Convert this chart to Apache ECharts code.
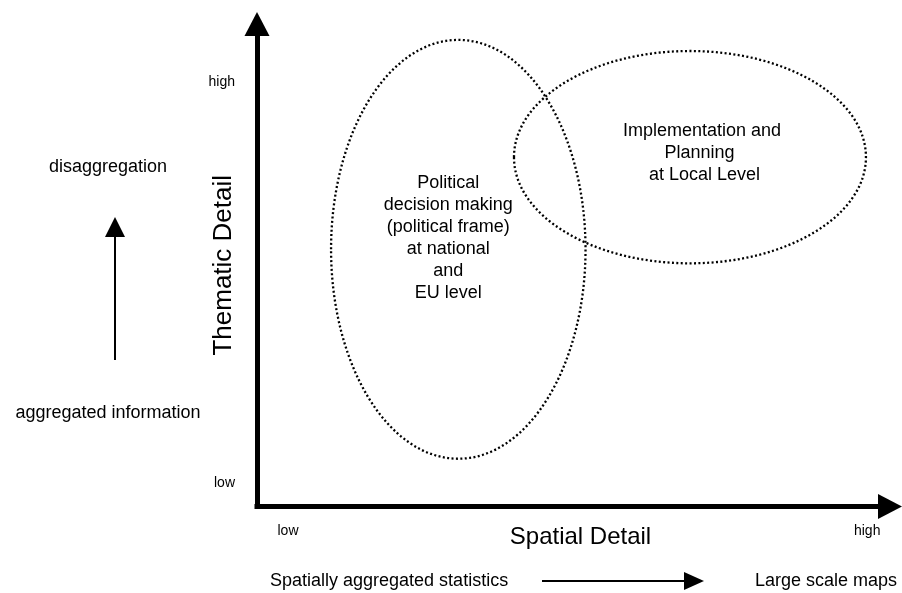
<!DOCTYPE html>
<html><head><meta charset="utf-8">
<script src="https://cdn.jsdelivr.net/npm/echarts@6/dist/echarts.min.js"></script>
<style>html,body{margin:0;padding:0;background:#fff}#c{width:902px;height:593px}</style>
</head><body><div id="c"></div>
<script>
// ---- data (conceptual units 0..100 on both axes) ----
const ellipseNames = [
  'Political\ndecision making\n(political frame)\nat national\nand\nEU level',
  'Implementation and\nPlanning \n at Local Level'
];
const ellipseCenterX = [31.8, 68.4];
const ellipseCenterY = [53.3, 72.4];
const ellipseRadiusX = [20.1, 27.8];
const ellipseRadiusY = [43.4, 22.0];
const xTickValues = [4.9, 96.4];
const xTickLabels = ['low', 'high'];
const yTickValues = [4.9, 88.0];
const yTickLabels = ['low', 'high'];
const xAxisTitle = 'Spatial Detail';
const yAxisTitle = 'Thematic Detail';
const leftTopText = 'disaggregation';
const leftBottomText = 'aggregated information';
const bottomLeftText = 'Spatially aggregated statistics';
const bottomRightText = 'Large scale maps';

const FONT = '"Liberation Sans", Arial, Helvetica, sans-serif';
const labelOffsets = [[-10, -11], [12, -4]];

const ellipseData = ellipseNames.map((n, i) => [ellipseCenterX[i], ellipseCenterY[i], ellipseRadiusX[i], ellipseRadiusY[i], n]);

const chart = echarts.init(document.getElementById('c'), null, {renderer: 'canvas'});
const axisLineStyle = {color: '#000', width: 5, cap: 'square'};
chart.setOption({
  backgroundColor: '#fff',
  animation: false,
  grid: {left: 257, right: 12, top: 24, bottom: 86.5, containLabel: false, outerBoundsMode: 'none'},
  xAxis: {
    type: 'value', min: 0, max: 100,
    axisLine: {show: true, onZero: false, symbol: ['none', 'triangle'], symbolSize: [25, 24], lineStyle: axisLineStyle},
    axisTick: {show: false}, splitLine: {show: false},
    axisLabel: {customValues: xTickValues, formatter: v => xTickLabels[xTickValues.indexOf(v)] || '',
      color: '#000', fontSize: 14, fontFamily: FONT, margin: 18},
    name: xAxisTitle, nameLocation: 'middle', nameGap: 19, nameMoveOverlap: false,
    nameTextStyle: {color: '#000', fontSize: 24, fontFamily: FONT, padding: [0, 0, 0, 14]}
  },
  yAxis: {
    type: 'value', min: 0, max: 100,
    axisLine: {show: true, onZero: false, symbol: ['none', 'triangle'], symbolSize: [25, 24], lineStyle: axisLineStyle},
    axisTick: {show: false}, splitLine: {show: false},
    axisLabel: {customValues: yTickValues, formatter: v => yTickLabels[yTickValues.indexOf(v)] || '',
      color: '#000', fontSize: 14, fontFamily: FONT, margin: 22},
    name: yAxisTitle, nameLocation: 'middle', nameGap: 20, nameRotate: 90, nameMoveOverlap: false,
    nameTextStyle: {color: '#000', fontSize: 26, fontFamily: FONT}
  },
  series: [{
    type: 'custom',
    coordinateSystem: 'cartesian2d',
    clip: false,
    data: ellipseData,
    renderItem: function (params, api) {
      const c = api.coord([api.value(0), api.value(1)]);
      const s = api.size([api.value(2), api.value(3)]);
      const off = labelOffsets[params.dataIndex];
      return {
        type: 'group',
        children: [{
          type: 'ellipse',
          shape: {cx: c[0], cy: c[1], rx: s[0], ry: s[1]},
          style: {fill: null, stroke: '#000', lineWidth: 2.3, lineDash: [2, 2.4]}
        }, {
          type: 'text',
          x: c[0] + off[0], y: c[1] + off[1],
          style: {text: ellipseNames[params.dataIndex], align: 'center', verticalAlign: 'middle',
            fontSize: 18, lineHeight: 22, fontFamily: FONT, fill: '#000'}
        }]
      };
    }
  }],
  graphic: [
    {type: 'text', x: 108, y: 167, style: {text: leftTopText, align: 'center', verticalAlign: 'middle', fontSize: 18, fontFamily: FONT, fill: '#000'}},
    {type: 'line', shape: {x1: 115, y1: 360, x2: 115, y2: 234}, style: {stroke: '#000', lineWidth: 2}},
    {type: 'polygon', shape: {points: [[105, 237], [125, 237], [115, 217]]}, style: {fill: '#000'}},
    {type: 'text', x: 108, y: 413, style: {text: leftBottomText, align: 'center', verticalAlign: 'middle', fontSize: 18, fontFamily: FONT, fill: '#000'}},
    {type: 'text', x: 270, y: 581, style: {text: bottomLeftText, align: 'left', verticalAlign: 'middle', fontSize: 18, fontFamily: FONT, fill: '#000'}},
    {type: 'line', shape: {x1: 542, y1: 581, x2: 688, y2: 581}, style: {stroke: '#000', lineWidth: 2}},
    {type: 'polygon', shape: {points: [[684, 572], [684, 590], [704, 581]]}, style: {fill: '#000'}},
    {type: 'text', x: 755, y: 581, style: {text: bottomRightText, align: 'left', verticalAlign: 'middle', fontSize: 18, fontFamily: FONT, fill: '#000'}}
  ]
});
</script></body></html>
